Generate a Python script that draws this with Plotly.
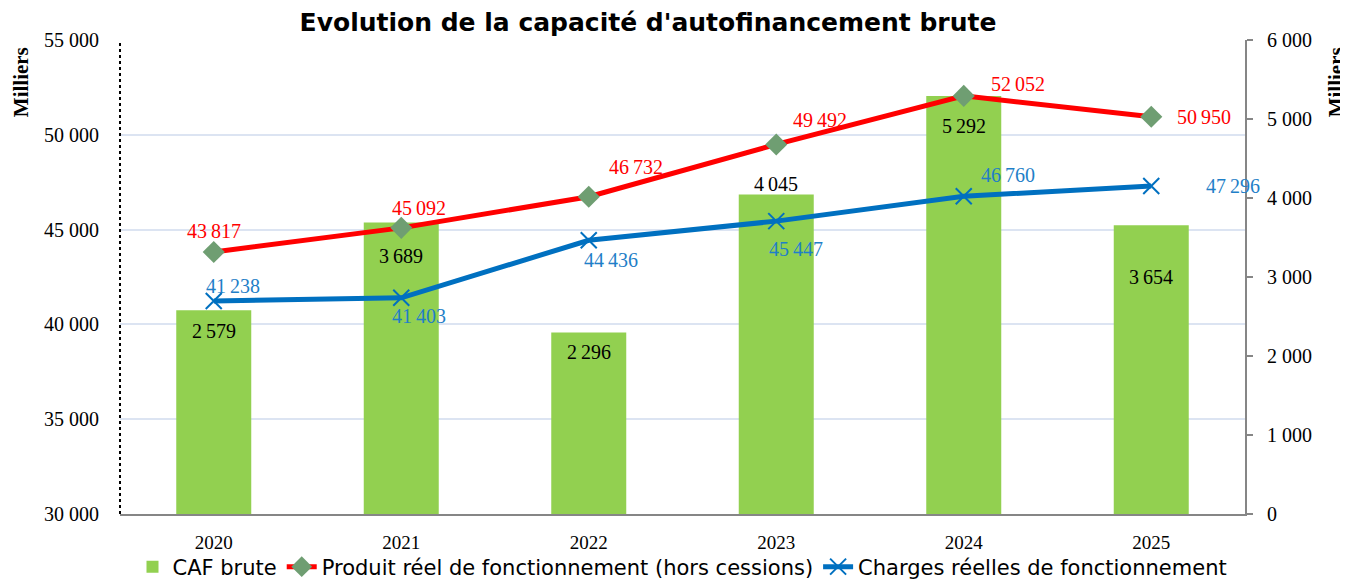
import plotly.graph_objects as go

years = ["2020", "2021", "2022", "2023", "2024", "2025"]
caf_brute = [2579, 3689, 2296, 4045, 5292, 3654]
produits = [43817, 45092, 46732, 49492, 52052, 50950]
charges = [41238, 41403, 44436, 45447, 46760, 47296]

# label offsets in pixels (style only): (dx, dy) with dy positive = downward
caf_off = [21, 33, 19, -10, 30, 52]
prod_off = [(0, -21), (18, -20), (47, -30), (44, -24), (54, -12), (53, 0)]
chg_off = [(19, -15), (18, 18), (22, 20), (20, 28), (44, -21), (82, 0)]


def fmt(v):
    return f"{v:,}".replace(",", "\u2009")

serif = "Liberation Serif"
LBL = 20

fig = go.Figure()
fig.add_trace(go.Bar(
    x=years, y=caf_brute, name="CAF brute", yaxis="y",
    marker=dict(color="#92d050", line=dict(width=0)), width=0.4,
))
fig.add_trace(go.Scatter(
    x=years, y=produits, name="Produit réel de fonctionnement (hors cessions)",
    yaxis="y2", mode="lines+markers",
    line=dict(color="#ff0000", width=5),
    marker=dict(symbol="diamond", size=17, color="#6f9e72"),
    cliponaxis=False,
))
fig.add_trace(go.Scatter(
    x=years, y=charges, name="Charges réelles de fonctionnement",
    yaxis="y2", mode="lines+markers",
    line=dict(color="#0070c0", width=5),
    marker=dict(symbol="x-thin", size=16, color="#0070c0", line=dict(width=2, color="#0070c0")),
    cliponaxis=False,
))

annotations = []
# category axis: annotation x given as the category index
for i, (v, dy) in enumerate(zip(caf_brute, caf_off)):
    annotations.append(dict(x=i, y=v, xref="x", yref="y", text=fmt(v), showarrow=False,
                            yshift=-dy, xanchor="center", yanchor="middle",
                            font=dict(family=serif, size=LBL, color="black")))
for i, (v, (dx, dy)) in enumerate(zip(produits, prod_off)):
    annotations.append(dict(x=i, y=v, xref="x", yref="y2", text=fmt(v), showarrow=False,
                            xshift=dx, yshift=-dy, xanchor="center", yanchor="middle",
                            font=dict(family=serif, size=LBL, color="#ff0000")))
for i, (v, (dx, dy)) in enumerate(zip(charges, chg_off)):
    annotations.append(dict(x=i, y=v, xref="x", yref="y2", text=fmt(v), showarrow=False,
                            xshift=dx, yshift=-dy, xanchor="center", yanchor="middle",
                            font=dict(family=serif, size=LBL, color="#1f7fc8")))

annotations.append(dict(text="<b>Milliers</b>", xref="paper", yref="paper", x=-0.0880, y=0.911,
                        textangle=-90, showarrow=False, xanchor="center", yanchor="middle",
                        font=dict(family=serif, size=21, color="black")))
annotations.append(dict(text="<b>Milliers</b>", xref="paper", yref="paper", x=1.0810, y=0.911,
                        textangle=-90, showarrow=False, xanchor="center", yanchor="middle",
                        font=dict(family=serif, size=21, color="black")))

fig.update_layout(
    width=1340, height=572, autosize=False,
    margin=dict(l=112, r=103, t=32, b=66, autoexpand=False),
    paper_bgcolor="white", plot_bgcolor="white",
    separators=", ",
    title=dict(text="<b>Evolution de la capacité d'autofinancement brute</b>",
               x=0.4693, xref="paper", xanchor="center", y=1 - 14 / 572, yref="container", yanchor="middle",
               font=dict(family="DejaVu Sans", size=25, color="black")),
    xaxis=dict(type="category", range=[-0.5, len(years) - 0.5], autorange=False,
               showline=True, linecolor="#868686", linewidth=2, ticks="",
               tickfont=dict(family=serif, size=19, color="black"),
               showgrid=False, ticklabelstandoff=10, automargin=False),
    yaxis=dict(range=[0, 6000], dtick=1000, tickformat=",d", side="right",
               showgrid=False, showline=True, linecolor="#868686", linewidth=2, automargin=False,
               ticks="outside", ticklen=6, tickcolor="#868686", tickwidth=2, zeroline=False,
               ticklabelstandoff=10,
               tickfont=dict(family=serif, size=20, color="black")),
    yaxis2=dict(range=[30000, 55000], dtick=5000, tickformat=",d", overlaying="y", side="left",
                showgrid=True, gridcolor="#dce4f2", gridwidth=1.5,
                showline=False, ticks="", zeroline=False, automargin=False,
                ticklabelstandoff=20,
                tickfont=dict(family=serif, size=20, color="black")),
    legend=dict(orientation="h", x=0.5, xanchor="center", y=-0.1118, yanchor="middle",
                bgcolor="rgba(0,0,0,0)",
                font=dict(family="DejaVu Sans", size=21, color="black"),
                traceorder="normal", tracegroupgap=0),
    showlegend=True,
    annotations=annotations,
)

fig.add_shape(type="line", xref="paper", yref="paper", x0=0, x1=0, y0=0, y1=1,
              line=dict(color="black", width=2, dash="dot"))

fig.write_html("out.html")
